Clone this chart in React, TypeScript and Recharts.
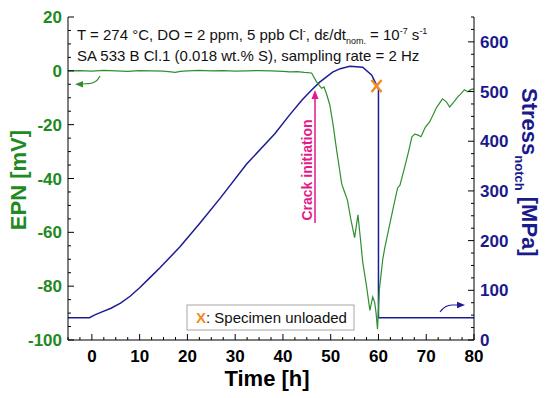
import { ComposedChart, Line, XAxis, YAxis } from "recharts"

// EPN signal [h, mV]
const epnPoints: Array<[number, number]> = [
  [-5, 0], [-2.5, 0.1], [0, -0.1], [2.5, 0.2], [5, 0], [7.5, -0.2], [10, 0.1],
  [12.5, 0], [15, -0.1], [17.5, -0.6], [18.5, -0.2], [20, 0], [22.5, 0.2],
  [25, 0], [27.5, 0.1], [30, -0.1], [32.5, 0], [35, 0.1], [37.5, 0], [40, -0.2],
  [41.4, -0.4], [43, -0.3], [44.5, -0.6], [46, -0.8], [47, -4], [48.1, -6.5],
  [48.6, -6], [49.2, -9], [49.8, -12.6], [50.5, -20], [51.2, -29], [51.8, -36],
  [52.3, -42], [52.9, -45], [53.5, -48], [54.2, -55], [55, -62], [55.7, -53.5],
  [56.2, -62], [56.7, -71], [57.5, -80], [58.2, -89], [58.8, -84], [59.2, -86],
  [59.5, -90], [59.8, -96], [60.2, -81], [60.9, -70], [61.3, -66], [62, -60],
  [63, -51.7], [64, -43.5], [64.5, -42.5], [65.5, -35.7], [66.3, -30], [67, -24.5],
  [67.6, -23.5], [68.2, -23.8], [68.9, -24.5], [69.8, -21], [70.7, -19],
  [71.4, -16.5], [72.1, -13.8], [72.8, -12], [73.4, -10.4], [74.2, -11.5],
  [74.9, -13.4], [75.8, -11.5], [76.6, -9.7], [77.3, -8.5], [78, -7], [78.7, -7.8],
  [79.3, -7], [80, -6.7],
]

// notch stress [h, MPa]
const stressPoints: Array<[number, number]> = [
  [-5, 45], [-0.5, 45], [0.5, 50], [2, 56], [4, 64], [6, 74], [8, 88],
  [10, 105], [12, 124], [14.2, 145], [18.4, 187], [22.6, 235], [27, 287], [32.4, 354],
  [38.3, 415], [41.4, 453], [44, 483], [46, 503], [47.7, 519], [50.4, 539],
  [52, 546], [54, 551], [56.7, 549], [58.6, 533], [59.6, 513], [60, 505],
  [60, 45], [80, 45],
]

const unloadPoints: Array<[number, number]> = [[59.6, 511]]

const timeMajor = [0, 10, 20, 30, 40, 50, 60, 70, 80]
const epnMajor = [-100, -80, -60, -40, -20, 0, 20]
const stressMajor = [0, 100, 200, 300, 400, 500, 600]

const epnData = epnPoints.map(([t, epn]) => ({ t, epn }))
const stressData = stressPoints.map(([t, stress]) => ({ t, stress }))
const unloadData = unloadPoints.map(([t, stress]) => ({ t, stress }))

const steps = (from: number, to: number, step: number) => {
  const out: number[] = []
  for (let v = from; v <= to + 1e-9; v += step) out.push(v)
  return out
}
const timeTicks = steps(-5, 80, 2.5)
const epnTicks = steps(-100, 20, 5)
const stressTicks = steps(0, 650, 25)

const GREEN = "#2f8f2f"
const GREEN_TXT = "#1f8a1f"
const NAVY = "#1c1c96"
const NAVY_TXT = "#1a1a8c"
const PINK = "#e4198a"
const ORANGE = "#f08a24"
const FONT = "'Liberation Sans', Arial, sans-serif"

const BottomTick = ({ x, y, payload }: any) => {
  const major = timeMajor.includes(payload.value)
  return (
    <g>
      <line x1={x} x2={x} y1={y} y2={y - (major ? 6 : 3)} stroke="#000" />
      {major && (
        <text x={x} y={y + 22} textAnchor="middle" fontSize={17} fontWeight="bold" fill="#000">
          {payload.value}
        </text>
      )}
    </g>
  )
}

const TopTick = ({ x, y, payload }: any) => {
  const major = timeMajor.includes(payload.value)
  return <line x1={x} x2={x} y1={y} y2={y + (major ? 6 : 3)} stroke="#000" />
}

const LeftTick = ({ x, y, payload }: any) => {
  const major = epnMajor.includes(payload.value)
  return (
    <g>
      <line x1={x} x2={x + (major ? 6 : 3)} y1={y} y2={y} stroke="#000" />
      {major && (
        <text x={x - 6} y={y + 6} textAnchor="end" fontSize={17} fontWeight="bold" fill={GREEN_TXT}>
          {payload.value}
        </text>
      )}
    </g>
  )
}

const RightTick = ({ x, y, payload }: any) => {
  const major = stressMajor.includes(payload.value)
  return (
    <g>
      <line x1={x} x2={x - (major ? 6 : 3)} y1={y} y2={y} stroke="#000" />
      {major && (
        <text x={x + 6} y={y + 6} textAnchor="start" fontSize={17} fontWeight="bold" fill={NAVY_TXT}>
          {payload.value}
        </text>
      )}
    </g>
  )
}

const XMark = ({ cx, cy }: any) => (
  <g stroke={ORANGE} strokeWidth={2.5}>
    <line x1={cx - 5} y1={cy - 6} x2={cx + 5} y2={cy + 6} />
    <line x1={cx - 5} y1={cy + 6} x2={cx + 5} y2={cy - 6} />
  </g>
)

export default function App() {
  return (
    <div style={{ position: "absolute", left: 0, top: 0, width: 550, height: 398, background: "#fff", fontFamily: FONT }}>
      <ComposedChart width={550} height={398} margin={{ top: 17, right: 0, bottom: 0, left: 0 }} style={{ fontFamily: FONT }}>
        <XAxis
          xAxisId="b"
          type="number"
          dataKey="t"
          domain={[-5, 80]}
          ticks={timeTicks}
          interval={0}
          height={58}
          tickSize={0}
          tickMargin={0}
          tick={<BottomTick />}
          axisLine={{ stroke: "#000" }}
          allowDataOverflow
        />
        <XAxis
          xAxisId="top"
          orientation="top"
          type="number"
          dataKey="t"
          domain={[-5, 80]}
          ticks={timeTicks}
          interval={0}
          height={0}
          tickSize={0}
          tickMargin={0}
          tick={<TopTick />}
          axisLine={{ stroke: "#000" }}
          allowDataOverflow
        />
        <YAxis
          yAxisId="epn"
          type="number"
          domain={[-100, 20]}
          ticks={epnTicks}
          interval={0}
          width={68}
          tickSize={0}
          tickMargin={0}
          tick={<LeftTick />}
          axisLine={{ stroke: "#000" }}
          allowDataOverflow
        />
        <YAxis
          yAxisId="stress"
          orientation="right"
          type="number"
          domain={[0, 650]}
          ticks={stressTicks}
          interval={0}
          width={76}
          tickSize={0}
          tickMargin={0}
          tick={<RightTick />}
          axisLine={{ stroke: "#000" }}
          allowDataOverflow
        />
        <Line
          xAxisId="b"
          yAxisId="stress"
          data={stressData}
          dataKey="stress"
          type="linear"
          stroke={NAVY}
          strokeWidth={1.5}
          dot={false}
          isAnimationActive={false}
        />
        <Line
          xAxisId="b"
          yAxisId="epn"
          data={epnData}
          dataKey="epn"
          type="linear"
          stroke={GREEN}
          strokeWidth={1.2}
          dot={false}
          isAnimationActive={false}
        />
        <Line
          xAxisId="b"
          yAxisId="stress"
          data={unloadData}
          dataKey="stress"
          stroke="none"
          dot={<XMark />}
          isAnimationActive={false}
        />
      </ComposedChart>

      {/* annotations */}
      <svg width={550} height={398} style={{ position: "absolute", left: 0, top: 0, pointerEvents: "none", fontFamily: FONT }}>
        <text x={77} y={40} fontSize={15} fill="#111">
          T = 274 °C, DO = 2 ppm, 5 ppb Cl<tspan dy={-6} fontSize={9}>-</tspan>
          <tspan dy={6}>, dε/dt</tspan>
          <tspan dy={4} fontSize={9}>nom.</tspan>
          <tspan dy={-4}> = 10</tspan>
          <tspan dy={-6} fontSize={9}>-7</tspan>
          <tspan dy={6}> s</tspan>
          <tspan dy={-6} fontSize={9}>-1</tspan>
        </text>
        <text x={77} y={61} fontSize={15} fill="#111">
          SA 533 B Cl.1 (0.018 wt.% S), sampling rate = 2 Hz
        </text>

        <text transform="translate(312,170) rotate(-90)" textAnchor="middle" fontSize={14} fontWeight="bold" fill={PINK}>
          Crack initiation
        </text>
        <line x1={315} y1={223} x2={315} y2={97} stroke={PINK} strokeWidth={1.5} />
        <polygon points="315,90 311.5,99 318.5,99" fill={PINK} />

        <path d="M100,76 Q96,84 88,83.5 L82,84" fill="none" stroke={GREEN} strokeWidth={1.2} />
        <polygon points="75,84.2 83,81 83,87.4" fill={GREEN} />
        <path d="M440,312 Q445,305 452,305 L458,305" fill="none" stroke={NAVY} strokeWidth={1.2} />
        <polygon points="465,305 457,301.8 457,308.2" fill={NAVY} />

        <rect x={187} y={305} width={167} height={25} fill="#fff" stroke="#a6a6a6" strokeWidth={1} />
        <text x={196} y={323} fontSize={15} fill="#111">
          <tspan fill={ORANGE} fontWeight="bold">X</tspan>: Specimen unloaded
        </text>

        <text transform="translate(26,180) rotate(-90)" textAnchor="middle" fontSize={22} fontWeight="bold" fill={GREEN_TXT}>
          EPN [mV]
        </text>
        <text transform="translate(522,88) rotate(90)" textAnchor="start" fontSize={22} fontWeight="bold" fill={NAVY_TXT}>
          Stress<tspan dy={7} fontSize={13}>notch</tspan>
          <tspan dy={-7}> [MPa]</tspan>
        </text>
        <text x={267} y={386} textAnchor="middle" fontSize={22} fontWeight="bold" fill="#000">
          Time [h]
        </text>
      </svg>
    </div>
  )
}
